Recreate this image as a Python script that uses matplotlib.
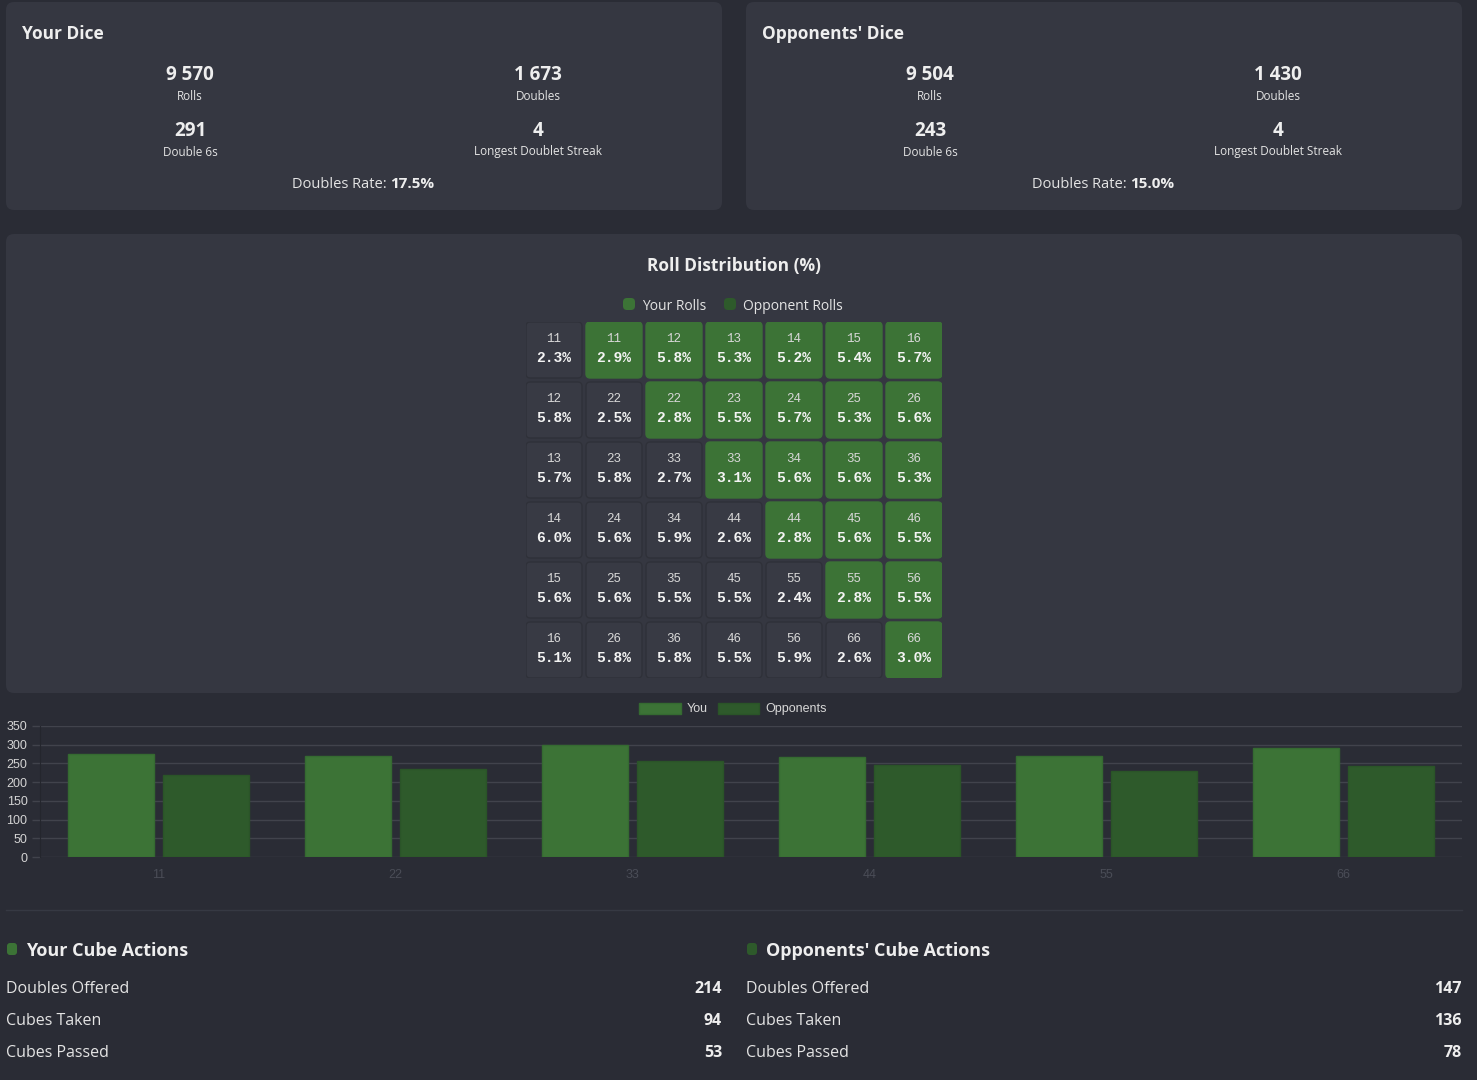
import numpy as np
import matplotlib.pyplot as plt
from matplotlib.patches import FancyBboxPatch, Patch

# ---------------- dados ----------------
your_title = "Your Dice"
opp_title = "Opponents' Dice"
your_stats = [("9 570", "Rolls"), ("1 673", "Doubles"), ("291", "Double 6s"), ("4", "Longest Doublet Streak")]
opp_stats = [("9 504", "Rolls"), ("1 430", "Doubles"), ("243", "Double 6s"), ("4", "Longest Doublet Streak")]
your_rate = "17.5%"
opp_rate = "15.0%"

# matriz: triangulo inferior = oponente, superior = voce
opp_labels = [["11"], ["12", "22"], ["13", "23", "33"], ["14", "24", "34", "44"],
              ["15", "25", "35", "45", "55"], ["16", "26", "36", "46", "56", "66"]]
opp_pct = [[2.3], [5.8, 2.5], [5.7, 5.8, 2.7], [6.0, 5.6, 5.9, 2.6],
           [5.6, 5.6, 5.5, 5.5, 2.4], [5.1, 5.8, 5.8, 5.5, 5.9, 2.6]]
your_labels = [["11", "12", "13", "14", "15", "16"], ["22", "23", "24", "25", "26"],
               ["33", "34", "35", "36"], ["44", "45", "46"], ["55", "56"], ["66"]]
your_pct = [[2.9, 5.8, 5.3, 5.2, 5.4, 5.7], [2.8, 5.5, 5.7, 5.3, 5.6],
            [3.1, 5.6, 5.6, 5.3], [2.8, 5.6, 5.5], [2.8, 5.5], [3.0]]

doubles = ["11", "22", "33", "44", "55", "66"]
you_counts = [275, 270, 300, 268, 269, 291]
opp_counts = [218, 236, 257, 247, 229, 243]

cube_rows = ["Doubles Offered", "Cubes Taken", "Cubes Passed"]
your_cube = [214, 94, 53]
opp_cube = [147, 136, 78]

# ---------------- estilo ----------------
BG = '#2a2c35'
PANEL = '#353741'
CELL = '#383a44'
CELL_EDGE = '#2f3139'
GREEN = '#3c7336'
DGREEN = '#2e5a2b'
TXT = '#eeeeee'
SANS = ['Open Sans', 'DejaVu Sans']
MONO = ['Liberation Mono', 'DejaVu Sans Mono']
ARIAL = ['Liberation Sans', 'DejaVu Sans']

W, H = 1477, 1080
fig = plt.figure(figsize=(W / 100, H / 100), dpi=100, facecolor=BG)

# eixo de fundo em pixels
bg = fig.add_axes([0, 0, 1, 1])
bg.set_xlim(0, W)
bg.set_ylim(H, 0)
bg.axis('off')

def painel(x0, y0, x1, y1):
    bg.add_patch(FancyBboxPatch((x0, y0), x1 - x0, y1 - y0,
                                boxstyle='round,pad=0,rounding_size=8',
                                fc=PANEL, ec='none', zorder=1))

painel(6, 2, 722, 210)
painel(746, 2, 1462, 210)
painel(6, 234, 1462, 693)

# paineis de cima
for x0, title, stats, rate in [(6, your_title, your_stats, your_rate),
                               (746, opp_title, opp_stats, opp_rate)]:
    bg.text(x0 + 16, 34, title, color=TXT, fontsize=12.5, fontweight='bold',
            family=SANS, ha='left', va='center', zorder=3)
    cols = [x0 + 184, x0 + 532]
    rows = [(75, 96), (131, 152)]
    for k, (val, lab) in enumerate(stats):
        cx = cols[k % 2]
        yv, yl = rows[k // 2]
        bg.text(cx, yv, val, color=TXT, fontsize=13.5, fontweight='bold',
                family=SANS, ha='center', va='center', zorder=3)
        bg.text(cx, yl, lab, color='#e4e4e4', fontsize=8.5,
                family=SANS, ha='center', va='center', zorder=3)
    bg.text(x0 + 381, 184, "Doubles Rate:", color='#e4e4e4', fontsize=10.5,
            family=SANS, ha='right', va='center', zorder=3)
    bg.text(x0 + 384, 184, rate, color=TXT, fontsize=11, fontweight='bold',
            family=SANS, ha='left', va='center', zorder=3)

# titulo e legenda da matriz
bg.text(734, 266, "Roll Distribution (%)", color=TXT, fontsize=12.5, fontweight='bold',
        family=SANS, ha='center', va='center', zorder=3)
for mx, col, lab in [(629, GREEN, "Your Rolls"), (730, DGREEN, "Opponent Rolls")]:
    bg.add_patch(FancyBboxPatch((mx - 6, 298), 12, 12, boxstyle='round,pad=0,rounding_size=4',
                                fc=col, ec='none', zorder=3))
    bg.text(mx + 13, 306, lab, color='#e4e4e4', fontsize=10,
            family=SANS, ha='left', va='center', zorder=3)

# matriz de rolagens
gx = fig.add_axes([526 / W, 1 - 678 / H, 416 / W, 356 / H])
gx.set_xlim(-28 / 60, 6 + 28 / 60)
gx.set_ylim(5 + 28 / 60, -28 / 60)
gx.axis('off')
cs = 56 / 60

def celula(r, c, lab, val, fc, ec):
    gx.add_patch(FancyBboxPatch((c - cs / 2, r - cs / 2), cs, cs,
                                boxstyle='round,pad=0,rounding_size=0.07',
                                fc=fc, ec=ec, lw=1))
    gx.text(c, r - 0.175, lab, color='#d8d8d8', fontsize=9, family=MONO,
            ha='center', va='center')
    gx.text(c, r + 0.125, f"{val:.1f}%", color='#f4f4f4', fontsize=10.5,
            fontweight='bold', family=MONO, ha='center', va='center')

for r in range(6):
    for c in range(len(opp_labels[r])):
        celula(r, c, opp_labels[r][c], opp_pct[r][c], CELL, CELL_EDGE)
    for k in range(len(your_labels[r])):
        celula(r, r + 1 + k, your_labels[r][k], your_pct[r][k], GREEN, GREEN)

# grafico de barras dos duplos
ax = fig.add_axes([40 / W, 1 - 857 / H, 1422 / W, 131 / H])
ax.set_facecolor(BG)
x = np.arange(len(doubles))
ax.bar(x - 0.2, you_counts, 0.36, color=GREEN, edgecolor='#356a31', lw=1, zorder=3, label='You')
ax.bar(x + 0.2, opp_counts, 0.36, color=DGREEN, edgecolor='#2a5428', lw=1, zorder=3, label='Opponents')
ax.set_xlim(-0.5, len(doubles) - 0.5)
ax.set_ylim(0, 350)
ax.set_yticks(np.arange(0, 351, 50))
ax.set_xticks(x)
ax.set_xticklabels(doubles)
ax.grid(axis='y', color='#41434c', lw=1, zorder=0)
for s in ['top', 'right', 'bottom']:
    ax.spines[s].set_visible(False)
ax.spines['left'].set_color('#24262d')
ax.tick_params(axis='y', colors='#41434c', labelcolor='#d4d4d4', length=6, width=1, pad=3, labelsize=9)
ax.tick_params(axis='x', length=0, labelcolor='#4a4d57', pad=9, labelsize=9)
for t in ax.get_xticklabels() + ax.get_yticklabels():
    t.set_family(ARIAL)
leg = fig.legend(handles=[Patch(fc=GREEN, ec='#356a31', label='You'),
                          Patch(fc=DGREEN, ec='#2a5428', label='Opponents')],
                 loc='center', bbox_to_anchor=(733 / W, 1 - 709 / H), ncol=2, frameon=False,
                 handlelength=3.3, handleheight=1.0, handletextpad=0.5, columnspacing=0.8,
                 prop={'family': ARIAL, 'size': 9})
for t in leg.get_texts():
    t.set_color('#d8d8d8')

# linha separadora
bg.plot([6, 1462], [910, 910], color='#363943', lw=1, zorder=2)

# acoes do cubo
for x0, col, title, vals in [(6, GREEN, "Your Cube Actions", your_cube),
                             (746, DGREEN, "Opponents' Cube Actions", opp_cube)]:
    bg.add_patch(FancyBboxPatch((x0 + 1, 943), 10, 12, boxstyle='round,pad=0,rounding_size=3',
                                fc=col, ec='none', zorder=3))
    bg.text(x0 + 20, 951, title, color=TXT, fontsize=13, fontweight='bold',
            family=SANS, ha='left', va='center', zorder=3)
    for k, (lab, v) in enumerate(zip(cube_rows, vals)):
        yy = 989 + 32 * k
        bg.text(x0, yy, lab, color='#e4e4e4', fontsize=11.5, family=SANS,
                ha='left', va='center', zorder=3)
        bg.text(x0 + 716, yy, str(v), color=TXT, fontsize=11.5, fontweight='bold',
                family=SANS, ha='right', va='center', zorder=3)

plt.savefig('out.png', dpi=100, facecolor=BG)
